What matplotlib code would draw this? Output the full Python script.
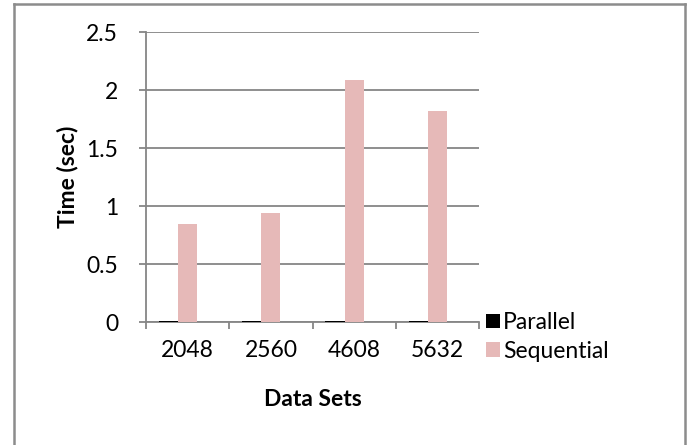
import numpy as np
import matplotlib.pyplot as plt
from matplotlib.lines import Line2D

plt.rcParams['font.family'] = ['Lato', 'DejaVu Sans']

data_sets = ["2048", "2560", "4608", "5632"]
parallel = [0.008, 0.009, 0.010, 0.011]
sequential = [0.85, 0.94, 2.09, 1.82]

fs = 16.5

fig = plt.figure(figsize=[6.93, 4.45], dpi=100)
ax = fig.add_axes([0.2107, 0.2764, 0.4805, 0.6508])

x = np.arange(len(data_sets))
w = 0.23
grid_col = "#868686"

ax.bar(x - w, parallel, w, color="black", label="Parallel", zorder=3)
ax.bar(x, sequential, w, color="#e6b9b8", label="Sequential", zorder=3)

ax.set_xlim(-0.5, len(data_sets) - 0.5)
ax.set_ylim(0, 2.5)
ax.set_yticks(np.arange(0, 2.51, 0.5))
ax.set_yticklabels(["0", "0.5", "1", "1.5", "2", "2.5"])
ax.yaxis.grid(True, color=grid_col, lw=1.3, zorder=0)

# category labels centred, tick marks on the category boundaries
ax.set_xticks(x)
ax.set_xticklabels(data_sets)
ax.set_xticks(np.arange(-0.5, len(data_sets), 1), minor=True)
ax.tick_params(axis="x", which="major", length=0, pad=13, labelsize=fs)
ax.tick_params(axis="x", which="minor", length=5, width=1.3, color=grid_col, direction="out")
ax.tick_params(axis="y", length=5, width=1.3, color=grid_col, pad=15, labelsize=fs)

for s in ["top", "right"]:
    ax.spines[s].set_visible(False)
for s in ["left", "bottom"]:
    ax.spines[s].set_color(grid_col)
    ax.spines[s].set_linewidth(1.3)

ax.set_xlabel("Data Sets", fontsize=fs, fontweight="bold", labelpad=20)
ax.set_ylabel("Time (sec)", fontsize=fs, fontweight="bold", labelpad=6)

fig.legend(loc="center left", bbox_to_anchor=(0.688, 0.243), frameon=False,
           fontsize=fs, handlelength=0.6, handleheight=0.6, handletextpad=0.15,
           labelspacing=0.32, borderaxespad=0)

# chart border
bc = "#8c8c8c"
l, r, t = 13.5 / 693, 684.5 / 693, 1 - 3.5 / 445
for xs, ys in [([l, l], [0, t]), ([l, r], [t, t]), ([r, r], [t, 0])]:
    fig.add_artist(Line2D(xs, ys, color=bc, lw=1.8, transform=fig.transFigure))

plt.savefig("out.png", dpi=100)
